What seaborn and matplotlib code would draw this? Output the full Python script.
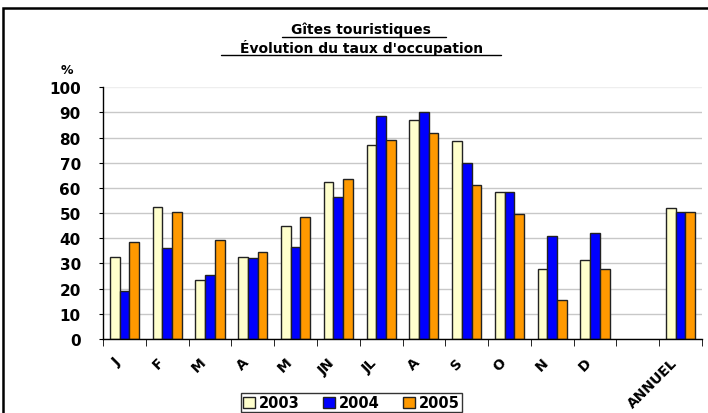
import pandas as pd
import numpy as np
import matplotlib
matplotlib.use('Agg')
import matplotlib.pyplot as plt
import matplotlib.transforms as mtrans
import seaborn as sns
from matplotlib.patches import Rectangle

# Data
mois = ['J', 'F', 'M', 'A', 'M ', 'JN', 'JL', 'A ', 'S', 'O', 'N', 'D', ' ', 'ANNUEL']
labels = ['J', 'F', 'M', 'A', 'M', 'JN', 'JL', 'A', 'S', 'O', 'N', 'D', '', 'ANNUEL']
annees = ['2003', '2004', '2005']
taux_2003 = [32.5, 52.5, 23.5, 32.5, 45, 62.5, 77, 87, 78.5, 58.5, 28, 31.5, None, 52]
taux_2004 = [19, 36, 25.5, 32, 36.5, 56.5, 88.5, 90, 70, 58.5, 41, 42, None, 50.5]
taux_2005 = [38.5, 50.5, 39.5, 34.5, 48.5, 63.5, 79, 82, 61, 49.5, 15.5, 28, None, 50.5]
couleurs = ['#FFFFCC', '#0000FF', '#FF9900']

# long table for seaborn
rows = []
for annee, vals in zip(annees, [taux_2003, taux_2004, taux_2005]):
    for m, v in zip(mois, vals):
        if v is not None:
            rows.append({'mois': m, 'annee': annee, 'taux': v})
df = pd.DataFrame(rows)

sns.set_style('white')
plt.rcParams['font.family'] = ['DejaVu Sans']
plt.rcParams['text.color'] = 'black'
plt.rcParams['xtick.color'] = 'black'
plt.rcParams['ytick.color'] = 'black'

fig = plt.figure(figsize=(7.08, 4.14), dpi=100)
ax = fig.add_axes([103 / 708, 74 / 414, (702 - 103) / 708, (340 - 88.3) / 414])

sns.barplot(data=df, x='mois', y='taux', hue='annee', order=mois, hue_order=annees,
            palette=couleurs, width=0.68, gap=0, edgecolor='#222222', linewidth=1,
            saturation=1, ax=ax, legend=True)

ax.set_xlim(-0.5, len(mois) - 0.5)
ax.set_ylim(0, 100)
ax.set_yticks(np.arange(0, 101, 10))
ax.set_yticklabels([str(v) for v in range(0, 101, 10)], fontsize=11, fontweight='bold')
ax.yaxis.grid(True, color='#c8c8c8', linewidth=1)
ax.get_ygridlines()[-1].set_color('#eeeeee')
ax.set_axisbelow(True)
ax.set_xlabel('')
ax.set_ylabel('')

# category ticks between groups, labels centred
ax.set_xticks(np.arange(len(mois)))
ax.set_xticklabels(labels, rotation=45, ha='right', va='center',
                   rotation_mode='anchor', fontsize=10, fontweight='bold')
ax.tick_params(axis='x', which='major', length=0, pad=15)
ax.set_xticks(np.arange(-0.5, len(mois), 1), minor=True)
ax.tick_params(axis='x', which='minor', length=5, direction='out', color='black', bottom=True)
ax.tick_params(axis='y', length=3, direction='out', color='black', left=True, pad=13)
shift = mtrans.ScaledTranslation(-6 / 100, 0, fig.dpi_scale_trans)
for lab in ax.get_xticklabels():
    lab.set_transform(lab.get_transform() + shift)

for s in ['top', 'right']:
    ax.spines[s].set_visible(False)
ax.spines['left'].set_color('black')
ax.spines['bottom'].set_color('black')
ax.spines['left'].set_linewidth(1)
ax.spines['bottom'].set_linewidth(1)

# titles
fig.text(0.513, 1 - 30 / 414, 'Gîtes touristiques ', ha='center', va='center',
         fontsize=10, fontweight='bold')
fig.text(0.51, 1 - 48 / 414, "Évolution du taux d'occupation", ha='center', va='center',
         fontsize=10, fontweight='bold')
fig.add_artist(plt.Line2D([282 / 708, 446 / 708], [1 - 38 / 414, 1 - 38 / 414], color='black', lw=1))
fig.add_artist(plt.Line2D([221 / 708, 501 / 708], [1 - 56 / 414, 1 - 56 / 414], color='black', lw=1))
fig.text(67 / 708, 1 - 70 / 414, '%', ha='center', va='center', fontsize=9, fontweight='bold')

# legend at the bottom
ax.get_legend().remove()
handles = [Rectangle((0, 0), 1, 1, facecolor=c, edgecolor='#222222', linewidth=1) for c in couleurs]
leg = fig.legend(handles, annees, loc='upper center', bbox_to_anchor=(351.5 / 708, 1 - 394 / 414),
                 ncol=3, frameon=True, fancybox=False, edgecolor='black', borderaxespad=0,
                 prop={'weight': 'bold', 'size': 10.5}, handlelength=0.8, handleheight=0.8,
                 handletextpad=0.3, columnspacing=1.6, borderpad=0.15)
leg.get_frame().set_linewidth(1)

# outer frame
fig.add_artist(Rectangle((2.5 / 708, -0.1), 1.2, 1 - 8.5 / 414 + 0.1, transform=fig.transFigure,
                         fill=False, edgecolor='black', linewidth=1.8))

fig.savefig('out.png', dpi=100)
